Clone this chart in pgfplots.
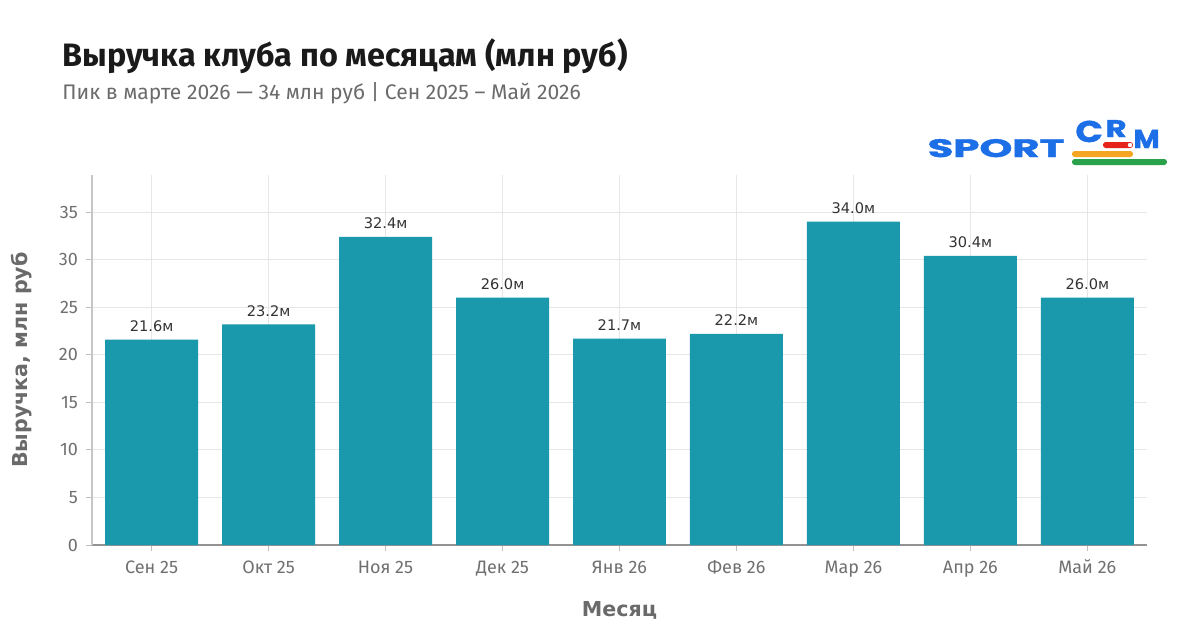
\documentclass[border=0pt]{standalone}
\usepackage{pgfplots}
\pgfplotsset{compat=1.18}
\usepackage{fontspec}
\setmainfont{Fira Sans}
\newfontfamily\dejavu{DejaVu Sans}
\newfontfamily\poppins[BoldFeatures={FakeBold=1.4}]{Poppins}
\definecolor{barc}{HTML}{1A98AC}
\definecolor{titlec}{HTML}{1A1A1A}
\definecolor{subc}{HTML}{6B6B6B}
\definecolor{tickc}{HTML}{707070}
\definecolor{gridc}{HTML}{E6E6E6}
\definecolor{labc}{HTML}{6A6A6A}
\definecolor{valc}{HTML}{333333}
\definecolor{logoblue}{HTML}{1C6FE6}
\definecolor{logored}{HTML}{E5231B}
\definecolor{logoorange}{HTML}{F4A623}
\definecolor{logogreen}{HTML}{2AA14B}
\begin{document}
\begin{tikzpicture}
\path[use as bounding box, fill=white] (0pt,0pt) rectangle (600pt,319.5pt);
\node[anchor=base west, font=\fontsize{16.2}{19}\selectfont\bfseries, text=titlec, inner sep=0] at (31pt,286.5pt) {Выручка клуба по месяцам (млн руб)};
\node[anchor=base west, font=\fontsize{10.55}{12}\selectfont, text=subc, inner sep=0] at (31pt,269.5pt) {Пик в марте 2026 — 34 млн руб | Сен 2025 – Май 2026};
% logo
\node[anchor=base west, font=\poppins\bfseries\fontsize{12.6}{14}\selectfont, text=logoblue, inner sep=0, xscale=1.66] at (463.5pt,241pt) {SPORT};
\node[anchor=base west, font=\poppins\bfseries\fontsize{15}{17}\selectfont, text=logoblue, inner sep=0, xscale=1.2] at (537.5pt,248.5pt) {C};
\node[anchor=base west, font=\poppins\bfseries\fontsize{12}{13}\selectfont, text=logoblue, inner sep=0, xscale=1.35] at (552.5pt,251pt) {R};
\node[anchor=base west, font=\poppins\bfseries\fontsize{13}{15}\selectfont, text=logoblue, inner sep=0, xscale=1.1] at (566.5pt,245.5pt) {M};
\fill[logored, rounded corners=1.4pt] (551.5pt,245.5pt) rectangle (566.5pt,248.5pt);
\fill[white] (565pt,247pt) circle (1.1pt);
\fill[logoorange, rounded corners=1.4pt] (536pt,241pt) rectangle (566.5pt,244pt);
\fill[logogreen, rounded corners=1.4pt] (536pt,237pt) rectangle (583.5pt,240pt);
\begin{axis}[
  at={(46pt,47pt)}, anchor=south west,
  scale only axis, width=527.5pt, height=185pt,
  xmin=-0.51, xmax=8.51, ymin=0, ymax=38.9,
  xtick={0,...,8},
  xticklabels={Сен 25,Окт 25,Ноя 25,Дек 25,Янв 26,Фев 26,Мар 26,Апр 26,Май 26},
  ytick={0,5,...,35},
  /pgf/number format/assume math mode=true,
  axis x line*=bottom, axis y line*=left,
  x axis line style={draw=gray!85, line width=0.7pt, -},
  y axis line style={draw=gray!45, line width=0.6pt, -},
  grid=major, grid style={draw=gridc, line width=0.5pt},
  tick align=outside, major tick length=3pt,
  tick style={draw=gray!50, line width=0.5pt},
  ticklabel style={font=\fontsize{9}{10}\selectfont, text=tickc},
  xticklabel style={yshift=0.5pt, text height=1.6ex, text depth=0.3ex},
  yticklabel style={xshift=-0.5pt},
  xlabel={Месяц},
  xlabel style={at={(axis description cs:0.5,-0.1757)}, anchor=center, font=\dejavu\bfseries\fontsize{10.3}{12}\selectfont, text=labc},
  ylabel={Выручка, млн руб},
  ylabel style={at={(axis description cs:-0.0664,0.5)}, anchor=center, font=\dejavu\bfseries\fontsize{10.3}{12}\selectfont, text=labc},
  ybar, bar width=0.795,
  nodes near coords={\pgfmathprintnumber[fixed,fixed zerofill,precision=1]{\pgfplotspointmeta}м},
  nodes near coords style={font=\dejavu\fontsize{7.3}{9}\selectfont, text=valc, anchor=south, yshift=0.5pt},
  clip=false,
]
\addplot[fill=barc, draw=none] coordinates {
  (0,21.6) (1,23.2) (2,32.4) (3,26.0) (4,21.7) (5,22.2) (6,34.0) (7,30.4) (8,26.0)
};
\end{axis}
\end{tikzpicture}
\end{document}
